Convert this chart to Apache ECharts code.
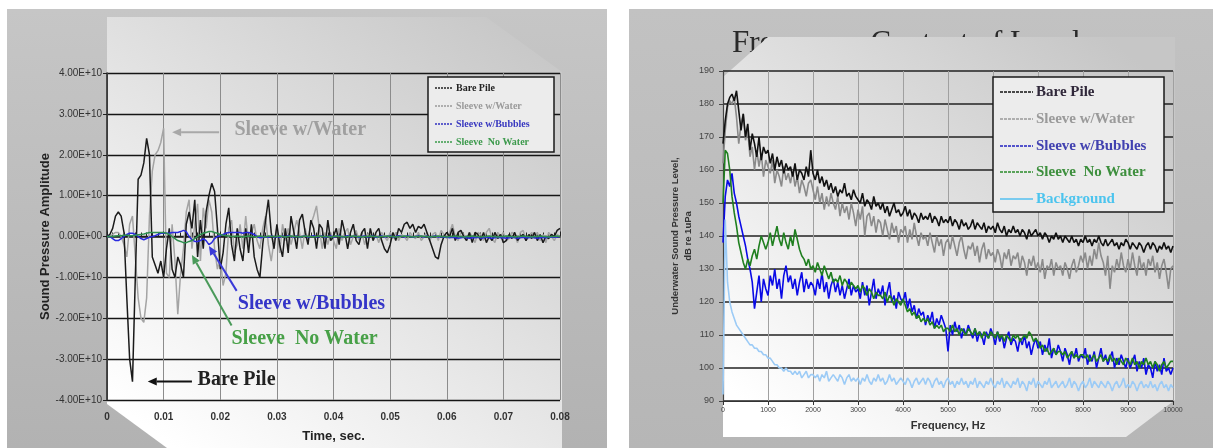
<!DOCTYPE html>
<html><head><meta charset="utf-8">
<script src="https://cdn.jsdelivr.net/npm/echarts@6/dist/echarts.min.js"></script>
<style>html,body{margin:0;padding:0;background:#fff}#c{width:1213px;height:448px}</style>
</head><body><div id="c"></div>
<script>
// ---------- LEFT CHART: time domain (time in ms, amplitude in units of 1E+10) ----------
const timeMs = [
0,0.5,1,1.5,2,2.5,3,3.5,4,4.5,
5,5.5,6,6.5,7,7.5,8,8.5,9,9.5,
10,10.5,11,11.5,12,12.5,13,13.5,14,14.5,
15,15.5,16,16.5,17,17.5,18,18.5,19,19.5,
20,20.5,21,21.5,22,22.5,23,23.5,24,24.5,
25,25.5,26,26.5,27,27.5,28,28.5,29,29.5,
30,30.5,31,31.5,32,32.5,33,33.5,34,34.5,
35,35.5,36,36.5,37,37.5,38,38.5,39,39.5,
40,40.5,41,41.5,42,42.5,43,43.5,44,44.5,
45,45.5,46,46.5,47,47.5,48,48.5,49,49.5,
50,50.5,51,51.5,52,52.5,53,53.5,54,54.5,
55,55.5,56,56.5,57,57.5,58,58.5,59,59.5,
60,60.5,61,61.5,62,62.5,63,63.5,64,64.5,
65,65.5,66,66.5,67,67.5,68,68.5,69,69.5,
70,70.5,71,71.5,72,72.5,73,73.5,74,74.5,
75,75.5,76,76.5,77,77.5,78,78.5,79,79.5,
80];
const barePileT = [
0,0.05,0.2,0.5,0.6,0.5,0.1,-1.5,-3.0,-3.55,
-1.0,1.4,1.5,1.8,2.4,2.0,-0.5,-0.7,-0.9,-0.6,
-1.0,-0.3,0.2,-0.8,-1.0,-0.5,-0.7,-1.0,0.3,0.6,
0.2,0.9,-0.5,0.4,-0.3,0.6,1.0,1.3,1.1,0.2,
-0.8,-0.4,0.3,0.7,-0.2,-0.6,0.2,-0.3,-0.6,0.2,
-0.4,0.3,-0.5,-0.8,-1.0,-0.2,0.4,0.9,0.1,-0.3,
0.3,-0.2,-0.5,0.2,-0.4,0.5,0.1,-0.3,0.4,0.55,
0.1,-0.2,0.4,0.2,-0.3,0.3,0.2,-0.3,0.4,-0.1,
0.0,0.2,-0.2,0.4,0.1,-0.3,0.1,0.3,-0.1,-0.2,
0.1,0.2,-0.3,0.2,-0.1,0.1,0.2,-0.1,-0.3,-0.4,
-0.2,0.1,-0.1,0.2,0.1,0.3,0.35,0.2,0.3,0.1,
0.25,0.2,0.3,0.1,-0.1,-0.3,-0.5,-0.55,-0.2,0.0,
0.1,0.0,0.2,-0.1,0.1,0.15,0.0,-0.1,0.1,-0.15,
0.1,0.05,-0.1,0.1,-0.15,0.0,-0.1,0.1,-0.05,0.05,
-0.15,-0.1,0.05,-0.05,0.1,-0.1,0.0,0.05,-0.1,0.05,
-0.05,0.1,-0.1,0.05,-0.15,0.0,-0.05,0.05,0.0,0.15,
0.2];
const sleeveWaterT = [
0,0,0.05,0.1,0.1,0.0,-0.2,-0.5,0.3,0.5,
-0.5,-1.5,-2.0,-2.1,-1.5,0.5,1.6,2.0,2.1,2.3,
2.65,-0.9,-1.0,0.3,-0.6,-1.9,-0.9,-0.3,0.6,0.9,
-0.3,0.3,0.8,-0.6,0.7,0.2,0.9,0.6,-0.3,-0.8,
-0.5,-1.2,-0.9,0.2,0.4,-0.4,-0.2,0.3,-0.3,0.5,
-0.2,0.1,0.3,-0.1,-0.3,0.2,0.5,-0.2,-0.6,-0.1,
0.2,-0.4,0.3,-0.1,0.2,-0.2,0.1,0.4,0.1,-0.3,
0.2,-0.1,0.3,0.5,0.75,0.2,-0.3,0.1,-0.2,0.1,
-0.1,-0.3,0.2,-0.1,0.1,0.2,-0.2,0.0,0.15,-0.1,
0.1,-0.2,0.05,0.1,-0.1,0.05,-0.15,0.1,0.0,-0.1,
0.1,-0.05,0.1,-0.1,0.05,0.0,-0.1,0.1,0.0,-0.05,
0.1,-0.1,0.0,0.1,-0.1,0.05,0.1,-0.1,0.15,0.05,
-0.05,0.1,0.3,0.0,-0.1,0.1,0.05,-0.1,0.1,0.0,
-0.15,0.1,0.05,-0.1,0.1,0.2,-0.05,-0.15,0.1,0.0,
0.1,-0.1,-0.05,0.1,0.05,-0.15,0.1,0.15,-0.1,0.0,
0.1,-0.05,0.1,-0.1,0.05,-0.15,0.1,0.0,-0.1,0.05,
0.0];
const sleeveBubblesT = [
0,0,-0.05,-0.1,-0.1,-0.05,0,0.05,0.08,0.08,
0.05,0,-0.05,-0.08,-0.05,-0.02,0,0.02,0.05,0.08,
0.08,0.08,0.08,0.1,0.1,0.1,0.12,0.15,0.12,0,
-0.08,-0.12,-0.12,-0.1,-0.05,-0.1,-0.2,-0.15,-0.05,0,
0.02,0.05,0.08,0.1,0.1,0.1,0.1,0.1,0.08,0.1,
0.1,0.08,0.05,0,-0.03,-0.02,0,-0.02,0.01,-0.01,
0,-0.02,0.01,-0.01,0.02,0,-0.01,0.01,-0.02,0,
0.01,-0.01,0,0.02,-0.01,0,0.01,-0.02,0,0.01,
-0.01,0,0.01,-0.01,0,0.02,-0.01,0,0.01,-0.02,
0,0.01,-0.01,0,0.01,-0.02,0,0.01,-0.01,0,
0.01,-0.01,0,0.02,0,-0.01,0.01,0,-0.02,0,
0.01,0,-0.01,0.01,-0.02,0,0.01,-0.01,0,-0.02,
-0.02,-0.03,-0.02,-0.03,-0.04,-0.03,-0.02,-0.03,-0.04,-0.03,
-0.03,-0.02,-0.04,-0.03,-0.02,-0.03,-0.04,-0.03,-0.02,-0.03,
-0.03,-0.04,-0.03,-0.02,-0.03,-0.04,-0.03,-0.02,-0.03,-0.03,
-0.02,-0.03,-0.04,-0.03,-0.02,-0.03,-0.02,-0.01,-0.02,-0.01,
0];
const sleeveNoWaterT = [
0,0,0,0.01,0.02,0.02,0.03,0.03,0.02,0.02,
0.03,0.04,0.05,0.06,0.08,0.1,0.1,0.1,0.1,0.1,
0.1,0.08,0.05,0,-0.05,-0.1,-0.12,-0.15,-0.15,-0.12,
-0.1,-0.05,0,0.05,0.08,0.1,0.12,0.12,0.1,0.08,
0.05,0.03,0.02,0.01,0,0,0.01,0,-0.01,0,
0.01,0,-0.01,0,0.01,0,-0.01,0.01,0,0,
0,0.01,0,-0.01,0,0.01,0,0,-0.01,0,
0.01,0,0,-0.01,0,0.01,0,0,0,-0.01,
0,0.01,0,0,-0.01,0,0,0.01,0,0,
-0.01,0,0,0.01,0,0,-0.01,0,0,0.01,
0,0,-0.01,0,0,0.01,0,0,-0.01,0,
0,0.01,0,0,-0.01,0,0,0.01,0,0,
-0.01,0,0,0.01,0,0,-0.01,0,0,0.01,
0,0,-0.01,0,0,0.01,0,0,-0.01,0,
0,0.01,0,0,-0.01,0,0,0.01,0,0,
-0.01,0,0,0.01,0,0,-0.01,0,0,0.01,
0];

// ---------- RIGHT CHART: spectrum (Hz, dB re 1uPa) ----------
const freqHz = [
0,50,100,150,200,250,300,350,400,450,
500,550,600,650,700,750,800,850,900,950,
1000,1050,1100,1150,1200,1250,1300,1350,1400,1450,
1500,1550,1600,1650,1700,1750,1800,1850,1900,1950,
2000,2050,2100,2150,2200,2250,2300,2350,2400,2450,
2500,2550,2600,2650,2700,2750,2800,2850,2900,2950,
3000,3050,3100,3150,3200,3250,3300,3350,3400,3450,
3500,3550,3600,3650,3700,3750,3800,3850,3900,3950,
4000,4050,4100,4150,4200,4250,4300,4350,4400,4450,
4500,4550,4600,4650,4700,4750,4800,4850,4900,4950,
5000,5050,5100,5150,5200,5250,5300,5350,5400,5450,
5500,5550,5600,5650,5700,5750,5800,5850,5900,5950,
6000,6050,6100,6150,6200,6250,6300,6350,6400,6450,
6500,6550,6600,6650,6700,6750,6800,6850,6900,6950,
7000,7050,7100,7150,7200,7250,7300,7350,7400,7450,
7500,7550,7600,7650,7700,7750,7800,7850,7900,7950,
8000,8050,8100,8150,8200,8250,8300,8350,8400,8450,
8500,8550,8600,8650,8700,8750,8800,8850,8900,8950,
9000,9050,9100,9150,9200,9250,9300,9350,9400,9450,
9500,9550,9600,9650,9700,9750,9800,9850,9900,9950,
10000];
const barePileF = [
168,175,180,182,183,181,184,178,172,177,
170,174,166,171,168,164,170,163,167,165,
166,162,165,160,164,161,163,159,162,160,
161,158,162,157,160,159,157,161,158,166,
159,157,160,156,158,155,157,154,156,153,
155,152,154,153,156,152,153,151,154,152,
151,150,153,149,151,150,148,152,149,150,
148,150,147,149,146,148,150,147,148,146,
147,149,146,148,145,147,146,144,147,145,
146,145,147,144,146,145,143,146,144,145,
144,146,143,145,144,142,145,143,144,142,
143,145,142,144,143,142,144,141,143,142,
143,141,144,142,141,143,140,142,141,143,
141,142,140,142,141,139,142,140,141,142,
140,141,139,141,140,138,140,139,141,139,
140,138,140,139,138,140,138,139,137,139,
138,140,138,139,137,139,138,140,138,137,
139,137,138,139,137,138,136,138,137,139,
138,136,138,137,136,138,137,135,137,138,
136,138,137,135,137,136,138,136,137,135,
137];
const sleeveWaterF = [
162,172,179,181,180,182,176,168,174,177,
169,172,164,167,160,166,161,165,158,163,
161,159,163,156,160,158,155,161,157,159,
156,160,155,158,153,157,155,152,156,157,
154,151,155,150,153,148,152,149,153,150,
148,152,146,150,147,149,145,150,147,143,
148,145,149,140,146,147,143,146,141,145,
144,140,145,142,139,144,141,143,138,142,
141,143,138,142,139,144,140,137,141,139,
140,137,141,138,135,140,137,139,134,138,
139,136,140,137,134,138,140,136,133,137,
136,138,134,137,132,136,138,133,136,134,
135,132,136,134,130,135,133,136,131,134,
133,135,130,134,132,128,133,131,134,130,
132,129,133,127,131,130,133,128,132,130,
131,128,132,130,127,131,133,129,131,134,
132,135,130,134,131,136,133,138,134,132,
128,134,124,131,129,133,130,135,131,129,
133,130,135,131,128,134,130,132,128,133,
131,134,129,132,127,131,133,129,124,130,
131];
const sleeveBubblesF = [
138,152,157,155,159,153,150,146,143,140,
137,133,130,126,118,123,128,120,127,124,
122,128,125,130,124,127,121,128,131,126,
128,124,127,122,126,129,123,127,124,126,
125,122,127,124,129,123,126,121,125,127,
123,126,122,125,121,124,127,122,125,123,
124,121,126,122,125,119,123,127,121,124,
122,125,119,123,126,120,122,118,123,121,
120,123,118,121,117,119,115,118,116,117,
113,116,114,117,112,115,113,116,114,112,
105,113,110,114,111,113,109,112,110,113,
111,109,112,108,111,110,107,111,109,112,
110,107,111,108,110,106,109,111,107,109,
108,105,109,107,110,106,108,104,107,109,
106,108,104,107,105,109,103,106,104,107,
105,102,106,104,101,105,103,106,102,104,
103,106,101,104,102,105,100,103,106,102,
104,101,103,105,100,103,101,104,102,100,
103,100,102,104,99,102,100,103,98,101,
100,97,102,99,101,98,103,99,100,98,
100];
const sleeveNoWaterF = [
150,166,165,160,152,147,143,138,135,132,
130,133,131,134,136,133,137,140,138,136,
138,141,137,140,143,139,137,141,138,136,
140,137,142,139,136,134,133,131,133,130,
131,129,132,130,128,131,129,127,129,126,
127,126,128,125,127,126,124,126,125,124,
125,123,125,124,122,124,123,121,123,122,
122,121,123,120,122,121,119,121,120,119,
121,119,117,118,116,117,115,116,114,115,
114,115,113,114,112,113,112,113,111,112,
112,111,113,111,112,110,112,111,110,112,
111,110,112,110,111,109,111,110,109,111,
110,109,111,109,110,108,110,109,108,110,
109,110,108,109,110,109,111,110,108,109,
108,106,107,105,106,104,105,106,104,105,
105,104,105,103,104,105,103,104,103,104,
104,103,104,102,103,104,102,103,104,102,
103,102,104,102,103,101,103,102,101,103,
102,101,103,101,102,100,102,101,103,101,
102,100,102,101,99,101,102,100,101,102,
102];
const backgroundF = [
92,145,126,120,117,115,113,112,111,110,
109,108,107,107,106,106,105,105,104,104,
103,103,102,101,101,100,100,99,100,99,
99,98,99,98,99,97,98,99,97,98,
98,97,98,96,98,97,99,96,97,98,
97,96,98,97,95,97,98,96,97,96,
97,95,97,96,98,96,95,97,96,98,
96,97,95,96,98,96,97,95,96,97,
96,95,97,96,94,96,97,95,96,97,
95,97,96,94,96,97,95,96,94,96,
97,95,96,94,96,95,97,95,96,94,
96,95,97,94,96,95,94,96,95,97,
95,94,96,95,97,94,96,95,94,96,
95,97,94,96,95,93,96,95,97,94,
96,95,94,96,95,97,94,95,96,94,
95,96,94,95,97,94,96,95,93,95,
96,94,95,97,94,96,95,94,96,95,
94,96,95,93,95,96,94,95,97,94,
95,94,96,95,93,95,96,94,95,94,
96,94,95,93,95,96,94,95,93,95,
94];

// ---------- text ----------
const leftNames  = ['Bare Pile','Sleeve w/Water','Sleeve w/Bubbles','Sleeve  No Water'];
const rightNames = ['Bare Pile','Sleeve w/Water','Sleeve w/Bubbles','Sleeve  No Water','Background'];
const rightTitle = 'Frequency Content of Levels';
// annotations (data coords of left chart: ms, 1E+10)
const annoText  = ['Sleeve w/Water','Sleeve w/Bubbles','Sleeve  No Water','Bare Pile'];
const annoAt    = [[22.5,2.6],[23.1,-1.64],[22.0,-2.5],[16.0,-3.5]];
const arrowFrom = [[19.8,2.55],[22.9,-1.33],[22.0,-2.18],[15.0,-3.55]];
const arrowTo   = [[11.5,2.55],[18.0,-0.23],[15.0,-0.45],[7.2,-3.55]];

const SERIF = "'Times New Roman','Liberation Serif',serif";
const SANS  = "Arial,'Liberation Sans',sans-serif";
const leftColors  = ['#1a1a1a','#a4a4a4','#2a2ae0','#2f8f4f'];
const rightColors = ['#111111','#8a8a8a','#0a0ae6','#1f7f1f','#9ccbf6'];

function mk(name, xs, ys, color, w, idx, z){
  return {type:'line', name, xAxisIndex:idx, yAxisIndex:idx, data: xs.map((x,i)=>[x,ys[i]]),
    showSymbol:false, symbol:'none', lineStyle:{color, width:w}, itemStyle:{color}, z, silent:true, animation:false};
}

const chart = echarts.init(document.getElementById('c'));
const axisLbl = (o)=>Object.assign({fontFamily:SANS, color:'#333'}, o);

const option = {
  animation:false,
  backgroundColor:'#ffffff',
  grid:[{left:107, top:73, width:453, height:331}, {left:723, top:71, width:450, height:330}],
  xAxis:[
    {gridIndex:0, type:'value', min:0, max:80, interval:10,
     name:'Time, sec.', nameLocation:'middle', nameGap:30,
     nameTextStyle:{fontFamily:SANS, fontSize:13, fontWeight:'bold', color:'#222'},
     axisLine:{show:true, lineStyle:{color:'#222', width:1.5}},
     axisTick:{show:true, inside:true, length:5, lineStyle:{color:'#222'}},
     minorTick:{show:true, splitNumber:10, length:4, lineStyle:{color:'#222'}},
     splitLine:{show:true, lineStyle:{color:'#8c8c8c', width:1}},
     axisLabel:axisLbl({fontSize:10, fontWeight:'bold', margin:12, formatter:v=> v===0?'0':(v/1000).toFixed(2)})},
    {gridIndex:1, type:'value', min:0, max:10000, interval:1000,
     name:'Frequency, Hz', nameLocation:'middle', nameGap:19,
     nameTextStyle:{fontFamily:SANS, fontSize:11, fontWeight:'bold', color:'#333'},
     axisLine:{show:true, lineStyle:{color:'#333', width:1.2}},
     axisTick:{show:true, length:4, lineStyle:{color:'#333'}},
     splitLine:{show:true, lineStyle:{color:'#a0a0a0', width:1}},
     axisLabel:axisLbl({fontSize:7, color:'#444', margin:6, formatter:v=>String(v)})}
  ],
  yAxis:[
    {gridIndex:0, type:'value', min:-4, max:4, interval:1,
     name:'Sound Pressure Amplitude', nameLocation:'middle', nameGap:55,
     nameTextStyle:{fontFamily:SANS, fontSize:13, fontWeight:'bold', color:'#222'},
     axisLine:{show:true, lineStyle:{color:'#222', width:1.5}},
     axisTick:{show:true, length:4, lineStyle:{color:'#222'}},
     splitLine:{show:true, lineStyle:{color:'#151515', width:1.3}},
     axisLabel:axisLbl({fontSize:10, margin:5, formatter:v=> v===0?'0.00E+00':v.toFixed(2)+'E+10'})},
    {gridIndex:1, type:'value', min:90, max:190, interval:10,
     name:'Underwater Sound Pressure Level,\ndB re 1uPa', nameLocation:'middle', nameGap:25,
     nameTextStyle:{fontFamily:SANS, fontSize:9.5, fontWeight:'bold', color:'#333', lineHeight:13, align:'center'},
     axisLine:{show:true, lineStyle:{color:'#444', width:1.2}},
     axisTick:{show:true, length:4, lineStyle:{color:'#444'}},
     splitLine:{show:true, lineStyle:{color:'#222', width:1.5}},
     axisLabel:axisLbl({fontSize:9, color:'#444', margin:9})}
  ],
  series:[
    mk(leftNames[1], timeMs, sleeveWaterT, leftColors[1], 1.5, 0, 2),
    mk(leftNames[0], timeMs, barePileT, leftColors[0], 1.5, 0, 3),
    mk(leftNames[2], timeMs, sleeveBubblesT, leftColors[2], 1.5, 0, 4),
    mk(leftNames[3], timeMs, sleeveNoWaterT, leftColors[3], 1.5, 0, 5),
    mk(rightNames[1], freqHz, sleeveWaterF, rightColors[1], 1.6, 1, 2),
    mk(rightNames[0], freqHz, barePileF, rightColors[0], 1.6, 1, 3),
    mk(rightNames[2], freqHz, sleeveBubblesF, rightColors[2], 1.6, 1, 4),
    mk(rightNames[3], freqHz, sleeveNoWaterF, rightColors[3], 1.6, 1, 5),
    mk(rightNames[4], freqHz, backgroundF, rightColors[4], 1.6, 1, 6)
  ]
};
chart.setOption(option);

// ---------- decorations ----------
const g = [];
const grad = (a,b)=>({type:'linear', x:0.85, y:0, x2:0.15, y2:1, colorStops:[{offset:0,color:a},{offset:1,color:b}]});
g.push({type:'rect', z:-20, z2:0, silent:true, shape:{x:7,y:9,width:600,height:439},
  style:{fill:{type:'linear',x:0,y:0,x2:0,y2:1,colorStops:[{offset:0,color:'#c6c6c6'},{offset:1,color:'#b2b2b2'}]}}});
g.push({type:'polygon', z:-20, z2:1, silent:true, shape:{points:[[107,17],[486,17],[562,72],[562,448],[167,448],[107,404]]},
  style:{fill:grad('#c8c8c8','#ffffff')}});
g.push({type:'rect', z:-20, z2:0, silent:true, shape:{x:629,y:9,width:584,height:439},
  style:{fill:{type:'linear',x:0,y:0,x2:0,y2:1,colorStops:[{offset:0,color:'#c2c2c2'},{offset:1,color:'#b6b6b6'}]}}});
g.push({type:'text', z:-20, z2:2, silent:true, x:732, y:44,
  style:{text:rightTitle, font:'31px '+SERIF, fill:'#2a2a2a', verticalAlign:'middle'}});
g.push({type:'polygon', z:-20, z2:3, silent:true, shape:{points:[[768,37],[1175,37],[1175,400],[1126,437],[723,437],[723,77]]},
  style:{fill:grad('#c6c6c6','#ffffff')}});

// legends
function legend(x0,y0,w,h,rows,names,colors,textColors,fs,lineW,dashes){
  g.push({type:'rect', z:50, silent:true, shape:{x:x0,y:y0,width:w,height:h},
    style:{fill:'#ececec', stroke:'#1a1a1a', lineWidth:1.5}});
  names.forEach((n,i)=>{
    const y = rows[i];
    g.push({type:'line', z:51, silent:true, shape:{x1:x0+7,y1:y,x2:x0+7+lineW,y2:y},
      style:{stroke:colors[i], lineWidth:1.3, lineDash:dashes[i]}});
    g.push({type:'text', z:51, silent:true, x:x0+10+lineW, y:y,
      style:{text:n, font:'bold '+fs+'px '+SERIF, fill:textColors[i], verticalAlign:'middle'}});
  });
}
legend(428,77,126,75,[88,106,124,142],leftNames,
  ['#222','#999','#3030c0','#3a9a4a'],['#222','#9a9a9a','#3838c0','#3d9a4d'],10,18,[[2,1],[2,1],[2,1],[2,1]]);
legend(993,77,171,135,[92,119,146,172,199],rightNames,
  ['#111','#999','#2020c0','#2a8a2a','#55c0f0'],['#30283a','#9a9a9a','#4242b0','#3d8f3d','#4cc4ee'],15,33,[[3,1],[3,1],[3,1],[3,1],null]);

// annotations
const annoColors  = ['#a0a0a0','#3535c8','#47a047','#222222'];
const arrowColors = ['#a8a8a8','#3a3ad8','#4a9a5a','#111111'];
annoText.forEach((t,i)=>{
  const p = chart.convertToPixel({xAxisIndex:0,yAxisIndex:0}, annoAt[i]);
  g.push({type:'text', z:60, silent:true, x:p[0], y:p[1],
    style:{text:t, font:'bold 20px '+SERIF, fill:annoColors[i], verticalAlign:'middle'}});
  const a = chart.convertToPixel({xAxisIndex:0,yAxisIndex:0}, arrowFrom[i]);
  const b = chart.convertToPixel({xAxisIndex:0,yAxisIndex:0}, arrowTo[i]);
  const ang = Math.atan2(b[1]-a[1], b[0]-a[0]);
  const L = 9, W = 4;
  const bx = b[0]-L*Math.cos(ang), by = b[1]-L*Math.sin(ang);
  g.push({type:'line', z:60, silent:true, shape:{x1:a[0],y1:a[1],x2:bx,y2:by},
    style:{stroke:arrowColors[i], lineWidth:2}});
  g.push({type:'polygon', z:60, silent:true, shape:{points:[[b[0],b[1]],
    [bx+W*Math.sin(ang), by-W*Math.cos(ang)],[bx-W*Math.sin(ang), by+W*Math.cos(ang)]]},
    style:{fill:arrowColors[i]}});
});
chart.setOption({graphic:{elements:g}});
</script>
</body></html>
